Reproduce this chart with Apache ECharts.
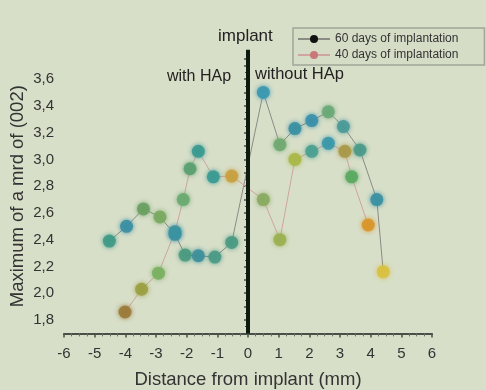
<!DOCTYPE html>
<html>
<head>
<meta charset="utf-8">
<script src="https://cdn.jsdelivr.net/npm/echarts@6/dist/echarts.min.js"></script>
<style>
  html, body { margin: 0; padding: 0; background: #d8dfc9; }
  #chart { width: 486px; height: 390px; }
</style>
</head>
<body>
<div id="chart"></div>
<script>
// 数据：距离 (mm) 与 最大值
const x60 = [-4.52, -3.96, -3.41, -2.87, -2.38, -2.05, -1.62, -1.08, -0.53, 0.5, 1.04, 1.53, 2.08, 2.62, 3.11, 3.65, 4.2, 4.41]
const y60 = [2.39, 2.50, 2.63, 2.57, 2.44, 2.285, 2.28, 2.27, 2.38, 3.5, 3.11, 3.23, 3.29, 3.355, 3.245, 3.07, 2.70, 2.16]
const c60 = ['#3f9a86', '#3a8fa2', '#6aa062', '#78a862', '#3890a2', '#4a9a80', '#3d8f9a', '#4a9a86', '#4a9a82',
    '#3a98b0', '#70a870', '#3a90a2', '#3a90aa', '#6aa878', '#4a9a98', '#4a9a8a', '#3a90a2', '#d8c040']

const x40 = [-4.01, -3.47, -2.92, -2.38, -2.11, -1.89, -1.62, -1.13, -0.53, 0.5, 1.04, 1.53, 2.08, 2.62, 3.16, 3.38, 3.92]
const y40 = [1.86, 2.03, 2.15, 2.46, 2.70, 2.93, 3.06, 2.87, 2.875, 2.70, 2.40, 3.0, 3.06, 3.12, 3.06, 2.87, 2.51]
const c40 = ['#9a7a3a', '#9aa040', '#7ab060', '#3a94a0', '#6aaa70', '#5aa070', '#3a9a90', '#3a9a92', '#c8a040',
    '#8aaa60', '#9ab050', '#a8b848', '#4aa090', '#3a98a8', '#a89848', '#5aa860', '#d8952a']

// 植入体位置 (竖线)
const implantX = [0, 0]
const implantY = [1.7, 3.82]

const xTickMin = -6, xTickMax = 6
const yMin = 1.7, yMax = 3.75

const fontFam = 'Liberation Sans, Arial, sans-serif'

function toPoints(xs, ys, cs) {
    return xs.map((x, i) => ({
        value: [x, ys[i]],
        itemStyle: {color: cs[i], shadowColor: cs[i], shadowBlur: 5, opacity: 0.9}
    }))
}

const chart = echarts.init(document.getElementById('chart'))
const option = {
    backgroundColor: '#d8dfc9',
    animation: false,
    textStyle: {fontFamily: fontFam},
    grid: {left: 64, right: 54, top: 59, bottom: 56.6, outerBoundsMode: 'none', containLabel: false},
    legend: {
        orient: 'vertical',
        left: 293,
        top: 28,
        padding: [5, 26, 4, 4],
        itemGap: 4,
        itemWidth: 32,
        itemHeight: 10,
        borderColor: '#a0a698',
        borderWidth: 1.5,
        backgroundColor: '#d6ddc7',
        textStyle: {fontFamily: fontFam, fontSize: 12, color: '#333'},
        data: ['60 days of implantation', '40 days of implantation']
    },
    xAxis: {
        type: 'value',
        min: xTickMin,
        max: xTickMax,
        interval: 1,
        name: 'Distance from implant (mm)',
        nameLocation: 'middle',
        nameGap: 37,
        nameTextStyle: {fontSize: 18.5, color: '#333', fontFamily: fontFam},
        axisLine: {lineStyle: {color: '#4a5048', width: 2}},
        axisTick: {show: true, length: 4, inside: false, lineStyle: {color: '#4a5048', width: 1.5}},
        minorTick: {show: true, splitNumber: 4, length: 3, lineStyle: {color: '#6a7068'}},
        axisLabel: {fontSize: 15, color: '#333', margin: 13, fontFamily: fontFam},
        splitLine: {show: false}
    },
    yAxis: {
        type: 'value',
        min: yMin,
        max: yMax,
        interval: 0.1,
        name: 'Maximum of a mrd of (002)',
        nameLocation: 'middle',
        nameGap: 37,
        nameMoveOverlap: false,
        nameTextStyle: {fontSize: 18.5, color: '#333', fontFamily: fontFam},
        axisLine: {lineStyle: {color: '#4a5048', width: 2}},
        axisTick: {show: true, length: 4, lineStyle: {color: '#4a5048', width: 1.5}},
        minorTick: {show: true, splitNumber: 2, length: 3, lineStyle: {color: '#4a5048'}},
        axisLabel: {
            fontSize: 15, color: '#333', margin: 10, fontFamily: fontFam,
            formatter: function (v) {
                if (v < 1.75 || Math.abs(v * 5 - Math.round(v * 5)) > 1e-6) return ''
                return v.toFixed(1).replace('.', ',')
            }
        },
        splitLine: {show: false}
    },
    series: [
        {
            name: 'implant',
            type: 'line',
            symbol: 'none',
            clip: false,
            silent: true,
            lineStyle: {color: '#0d1a0d', width: 4},
            data: implantX.map((x, i) => [x, implantY[i]]),
            z: 4
        },
        {
            name: '60 days of implantation',
            type: 'line',
            symbol: 'circle',
            symbolSize: 13,
            itemStyle: {color: '#111'},
            lineStyle: {color: '#8a8c84', width: 1},
            data: toPoints(x60, y60, c60),
            z: 3
        },
        {
            name: '40 days of implantation',
            type: 'line',
            symbol: 'circle',
            symbolSize: 13,
            itemStyle: {color: '#c87878'},
            lineStyle: {color: '#d0a4a0', width: 1},
            data: toPoints(x40, y40, c40),
            z: 3
        }
    ],
    graphic: [
        {type: 'text', left: 218, top: 28, style: {text: 'implant', fontSize: 17, fill: '#222', fontFamily: fontFam}},
        {type: 'text', left: 167, top: 69, style: {text: 'with HAp', fontSize: 16, fill: '#222', fontFamily: fontFam}},
        {type: 'text', left: 255, top: 66, style: {text: 'without HAp', fontSize: 16.5, fill: '#222', fontFamily: fontFam}}
    ]
}
chart.setOption(option)
</script>
</body>
</html>
